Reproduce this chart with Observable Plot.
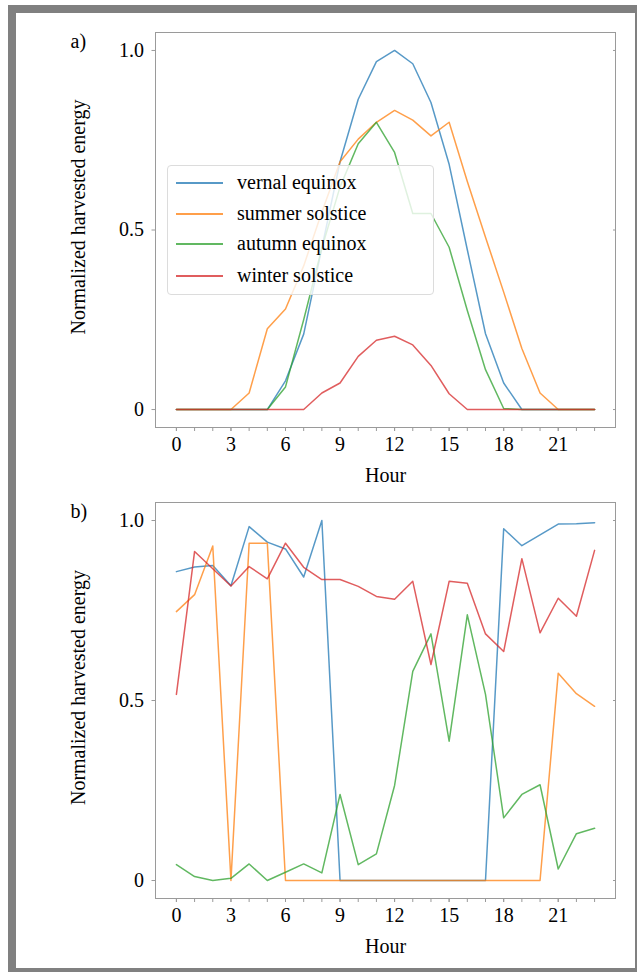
<!DOCTYPE html>
<html>
<head>
<meta charset="utf-8">
<script src="https://cdn.jsdelivr.net/npm/d3@7"></script>
<script src="https://cdn.jsdelivr.net/npm/@observablehq/plot@0.6"></script>
<style>
  body { margin: 0; background: #fff; }
  #page { position: relative; width: 637px; height: 972px; overflow: hidden; background: #fff;
          font-family: "Liberation Serif", "Times New Roman", serif; }
  #border { position: absolute; left: 8px; top: 5px; width: 629px; height: 967px; box-sizing: border-box;
            border-style: solid; border-color: #808080; border-width: 8px 2px 4px 8px; }
  .panel { position: absolute; left: 16px; }
  #legend { position: absolute; left: 167px; top: 165px; width: 267px; height: 130px; box-sizing: border-box;
            border: 1px solid #dcdcdc; border-radius: 4px; background: rgba(255,255,255,0.8); }
  .row { position: absolute; left: 0; width: 100%; height: 0; }
  .sw { position: absolute; left: 8px; width: 47px; top: -1px; height: 2px; }
  .lab { position: absolute; left: 69px; top: -13px; font-size: 20px; line-height: 24px; color: #000; white-space: nowrap; }
</style>
</head>
<body>
<div id="page">
  <div id="border"></div>
  <div id="pa" class="panel" style="top:13px"></div>
  <div id="pb" class="panel" style="top:483px"></div>
  <div id="legend"></div>
</div>
<script>
// ---- data ----
const hours = [0,1,2,3,4,5,6,7,8,9,10,11,12,13,14,15,16,17,18,19,20,21,22,23];
const xTickLabels = [0,3,6,9,12,15,18,21];
const yTickValues = [0,0.5,1.0];
const seriesNames = ["vernal equinox","summer solstice","autumn equinox","winter solstice"];
const seriesColors = ["#1f77b4","#ff7f0e","#2ca02c","#d62728"];

// panel a)
const aVernal = [0,0,0,0,0,0,0.08,0.21,0.45,0.69,0.864,0.969,1.0,0.963,0.855,0.683,0.445,0.211,0.074,0,0,0,0,0];
const aSummer = [0,0,0,0,0.046,0.225,0.28,0.40,0.55,0.69,0.753,0.80,0.833,0.806,0.762,0.80,0.635,0.48,0.327,0.17,0.046,0,0,0];
const aAutumn = [0,0,0,0,0,0,0.063,0.25,0.45,0.62,0.74,0.80,0.716,0.546,0.546,0.452,0.276,0.111,0.003,0,0,0,0,0];
const aWinter = [0,0,0,0,0,0,0,0,0.046,0.074,0.148,0.193,0.204,0.18,0.123,0.044,0,0,0,0,0,0,0,0];

// panel b)
const bVernal = [0.858,0.871,0.875,0.819,0.983,0.94,0.921,0.843,1.0,0,0,0,0,0,0,0,0,0,0.977,0.93,0.96,0.99,0.991,0.994];
const bSummer = [0.747,0.794,0.929,0,0.937,0.937,0,0,0,0,0,0,0,0,0,0,0,0,0,0,0,0.576,0.519,0.484];
const bAutumn = [0.044,0.011,0,0.006,0.046,0,0.023,0.046,0.021,0.239,0.044,0.074,0.264,0.581,0.685,0.387,0.738,0.517,0.174,0.239,0.266,0.032,0.13,0.145];
const bWinter = [0.517,0.914,0.866,0.818,0.872,0.838,0.937,0.87,0.836,0.836,0.817,0.789,0.781,0.831,0.6,0.831,0.826,0.685,0.636,0.894,0.688,0.784,0.734,0.917];

const xLabel = "Hour";
const yLabel = "Normalized harvested energy";

function toLong(arrays) {
  return arrays.flatMap((vals, k) => hours.map((h, i) => ({hour: h, value: vals[i], name: seriesNames[k]})));
}

const font = '"Liberation Serif", "Times New Roman", serif';
const spine = "#9a9a9a";
const lineOpacity = 0.75;

function panel(arrays, tag, height, marginBottom) {
  const data = toLong(arrays);
  return Plot.plot({
    width: 619, height,
    marginLeft: 139, marginRight: 20, marginTop: 19, marginBottom,
    style: {fontFamily: font, fontSize: "20px", background: "transparent", color: "black", overflow: "visible"},
    x: {domain: [-1.15, 24.15], label: null},
    y: {domain: [-0.05, 1.05], label: null},
    color: {domain: seriesNames, range: seriesColors},
    marks: [
      Plot.frame({stroke: spine, strokeWidth: 1}),
      Plot.axisX(hours, {tickSize: 4, stroke: spine, tickFormat: () => "", label: null}),
      Plot.axisX(xTickLabels, {tickSize: 4, tickPadding: 5, stroke: spine, fill: "black", label: null, fontSize: 20}),
      Plot.axisY(yTickValues, {tickSize: 3.5, tickPadding: 8, stroke: spine, fill: "black", label: null, fontSize: 20,
        tickFormat: d => d === 0 ? "0" : d.toFixed(1)}),
      Plot.axisY(yTickValues, {anchor: "right", tickSize: -3, stroke: spine, tickFormat: () => "", label: null}),
      Plot.lineY(data, {x: "hour", y: "value", z: "name", stroke: "name", strokeWidth: 1.5, strokeOpacity: lineOpacity}),
      Plot.text([tag], {frameAnchor: "top-left", textAnchor: "start", lineAnchor: "middle", dx: -85, dy: 9, fontSize: 20, fill: "black"}),
      Plot.text([yLabel], {frameAnchor: "left", textAnchor: "middle", lineAnchor: "middle", rotate: -90, dx: -77, dy: -13, fontSize: 20, fill: "black"}),
      Plot.text([xLabel], {frameAnchor: "bottom", textAnchor: "middle", lineAnchor: "middle", dy: 48, fontSize: 20, fill: "black"})
    ]
  });
}

document.getElementById("pa").append(panel([aVernal, aSummer, aAutumn, aWinter], "a)", 470, 56));
document.getElementById("pb").append(panel([bVernal, bSummer, bAutumn, bWinter], "b)", 485, 70));

// legend (panel a)
const legend = document.getElementById("legend");
const rowTops = [17, 48, 78, 110];
seriesNames.forEach((n, i) => {
  const row = document.createElement("div");
  row.className = "row";
  row.style.top = rowTops[i] + "px";
  const sw = document.createElement("div");
  sw.className = "sw";
  sw.style.backgroundColor = seriesColors[i];
  sw.style.opacity = lineOpacity;
  const lab = document.createElement("div");
  lab.className = "lab";
  lab.textContent = n;
  row.append(sw, lab);
  legend.append(row);
});
</script>
</body>
</html>
